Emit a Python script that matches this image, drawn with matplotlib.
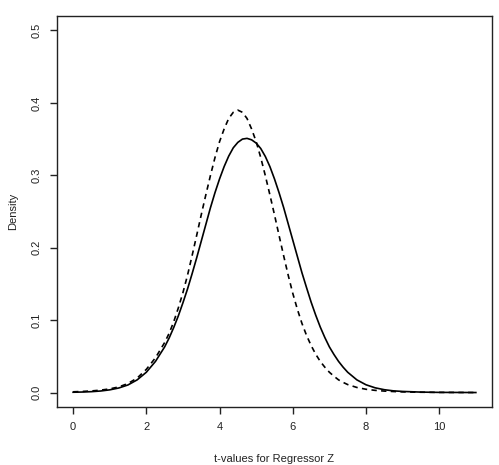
import matplotlib
matplotlib.use("Agg")
import matplotlib.pyplot as plt

# t-values grid (finer around the peaks) and densities
t_values = [0.0, 0.25, 0.5, 0.75, 1.0, 1.25, 1.5, 1.75, 2.0, 2.25,
            2.5, 2.625, 2.75, 2.875, 3.0, 3.125, 3.25, 3.375, 3.5, 3.625,
            3.75, 3.875, 4.0, 4.125, 4.25, 4.375, 4.5, 4.625, 4.75, 4.875,
            5.0, 5.125, 5.25, 5.375, 5.5, 5.625, 5.75, 5.875, 6.0, 6.125,
            6.25, 6.375, 6.5, 6.625, 6.75, 6.875, 7.0, 7.125, 7.25, 7.375,
            7.5, 7.75, 8.0, 8.25, 8.5, 8.75, 9.0, 9.5, 10.0, 10.5, 11.0]

# solid curve
density_solid = [0.0004, 0.0007, 0.0012, 0.0021, 0.0037, 0.0063, 0.0105, 0.0175, 0.028, 0.043,
                 0.063, 0.0755, 0.090, 0.106, 0.124, 0.143, 0.164, 0.186, 0.209, 0.232,
                 0.255, 0.276, 0.295, 0.312, 0.3265, 0.338, 0.3455, 0.350, 0.351, 0.349,
                 0.3445, 0.337, 0.326, 0.312, 0.295, 0.276, 0.2555, 0.233, 0.2105, 0.188,
                 0.1655, 0.145, 0.125, 0.107, 0.0905, 0.076, 0.063, 0.0525, 0.043, 0.035,
                 0.028, 0.0175, 0.0107, 0.0065, 0.0039, 0.0023, 0.0015, 0.0006, 0.0002, 0.0001, 0.0]

# dashed curve
density_dashed = [0.001, 0.0015, 0.0022, 0.0033, 0.005, 0.0078, 0.0125, 0.020, 0.032, 0.048,
                  0.069, 0.082, 0.098, 0.117, 0.138, 0.162, 0.189, 0.217, 0.2455, 0.273,
                  0.2995, 0.3245, 0.3465, 0.364, 0.3785, 0.387, 0.390, 0.387, 0.3785, 0.364,
                  0.3465, 0.3245, 0.2995, 0.273, 0.2455, 0.217, 0.189, 0.162, 0.137, 0.115,
                  0.0955, 0.079, 0.065, 0.053, 0.043, 0.035, 0.028, 0.0225, 0.0175, 0.014,
                  0.011, 0.007, 0.0045, 0.003, 0.002, 0.0014, 0.0009, 0.0004, 0.0002, 0.0001, 0.0]

x_ticks = [0, 2, 4, 6, 8, 10]
y_ticks = [0.0, 0.1, 0.2, 0.3, 0.4, 0.5]

plt.rcParams['font.family'] = ['Liberation Sans', 'DejaVu Sans']

fig = plt.figure(figsize=(4.99, 4.65), dpi=100)
ax = fig.add_axes([0.1142, 0.1247, 0.8717, 0.8409])

ax.plot(t_values, density_solid, color="black", lw=1.2)
ax.plot(t_values, density_dashed, color="black", lw=1.2, linestyle=(0, (3.2, 2.6)))

ax.set_xlim(-0.44, 11.44)
ax.set_ylim(-0.02, 0.52)

ax.set_xticks(x_ticks)
ax.set_xticklabels([str(v) for v in x_ticks])
ax.set_yticks(y_ticks)
ax.set_yticklabels(["%.1f" % v for v in y_ticks], rotation=90, va="center")

ax.tick_params(axis="both", direction="out", length=5, width=1, labelsize=8,
               colors="#222222", pad=6)
for s in ax.spines.values():
    s.set_linewidth(1)
    s.set_color("#222222")

ax.set_xlabel("t-values for Regressor Z", fontsize=8, labelpad=15.5, color="#222222")
ax.set_ylabel("Density", fontsize=8, labelpad=10, color="#222222")

fig.savefig("out.png", dpi=100)
